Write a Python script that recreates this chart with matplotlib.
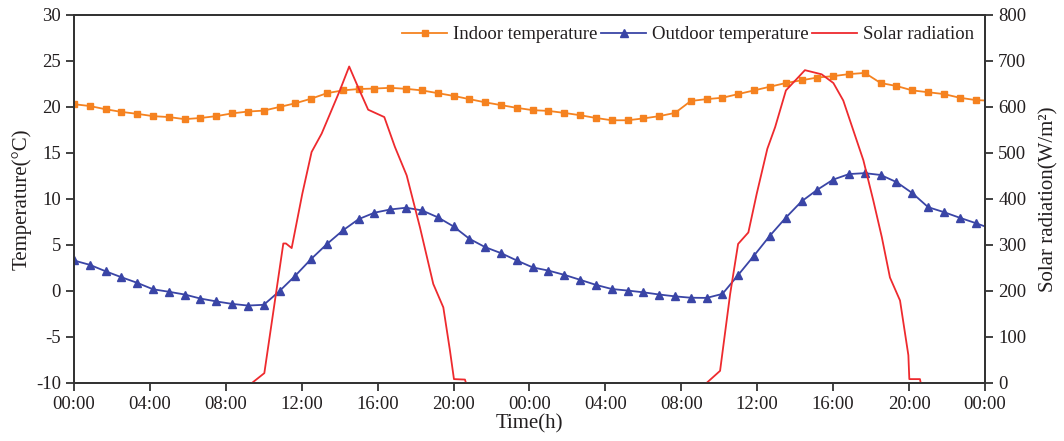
import numpy as np
import matplotlib
matplotlib.use("Agg")
import matplotlib.pyplot as plt

plt.rcParams['font.family'] = ['Liberation Serif', 'DejaVu Serif']
plt.rcParams['font.size'] = 13.5
plt.rcParams['axes.unicode_minus'] = False

# time of each marker (every 50 min) plus the end of the 48 h record
hours = np.append(np.arange(58) * 50 / 60, 48.0)

indoor = [20.3, 20.1, 19.75, 19.46, 19.25, 19.0, 18.9, 18.67, 18.8, 19.0,
          19.3, 19.5, 19.6, 20.0, 20.4, 20.9, 21.5, 21.8, 21.95, 22.0,
          22.08, 21.97, 21.8, 21.5, 21.2, 20.85, 20.5, 20.2, 19.9, 19.65,
          19.57, 19.35, 19.1, 18.8, 18.55, 18.55, 18.75, 19.0, 19.35, 20.65,
          20.85, 21.0, 21.4, 21.8, 22.2, 22.6, 22.9, 23.2, 23.35, 23.57,
          23.7, 22.6, 22.28, 21.8, 21.6, 21.4, 21.0, 20.75, 20.7]

outdoor = [3.3, 2.83, 2.13, 1.48, 0.87, 0.17, -0.1, -0.4, -0.84, -1.15,
           -1.42, -1.6, -1.52, -0.02, 1.66, 3.47, 5.1, 6.57, 7.8, 8.5,
           8.85, 9.04, 8.75, 8.0, 7.0, 5.66, 4.75, 4.1, 3.3, 2.55,
           2.2, 1.74, 1.2, 0.65, 0.2, 0.03, -0.16, -0.4, -0.6, -0.75,
           -0.77, -0.33, 1.74, 3.84, 6.0, 7.95, 9.73, 11.0, 12.1, 12.7,
           12.8, 12.6, 11.83, 10.63, 9.1, 8.56, 7.95, 7.37, 7.0]

# solar radiation, day 1 and day 2 (W/m2)
sun1_t = [9.39, 10.03, 11.03, 11.17, 11.47, 12.03, 12.52, 13.05, 13.49, 14.01,
          14.50, 14.98, 15.5, 16.35, 16.91, 17.53, 18.23, 18.93, 19.46, 19.81,
          20.02, 20.6, 20.65]
sun1_w = [0, 21, 303, 303, 293, 411, 502, 542, 585, 636,
          688, 642, 594, 578, 513, 451, 338, 215, 164, 70,
          8, 7, 0]
sun2_t = [33.34, 34.04, 34.57, 34.99, 35.53, 35.97, 36.53, 36.94, 37.51, 38.08,
          38.51, 39.39, 40.01, 40.53, 41.06, 41.59, 42.11, 42.56, 42.99, 43.52,
          43.96, 44.01, 44.57, 44.61]
sun2_w = [0, 26, 193, 302, 327, 411, 509, 556, 636, 661,
          680, 671, 652, 614, 549, 484, 397, 317, 229, 179,
          60, 8, 8, 0]

xticks = np.arange(0, 49, 4)
xlabels = ["00:00", "04:00", "08:00", "12:00", "16:00", "20:00", "00:00",
           "04:00", "08:00", "12:00", "16:00", "20:00", "00:00"]

c_in = '#F58220'
c_out = '#3A45A6'
c_sun = '#EE2A2E'
txt = '#231F20'

fig = plt.figure(figsize=(10.64, 4.41), dpi=100)
ax = fig.add_axes([0.0695, 0.132, 0.8563, 0.834])
ax2 = ax.twinx()

l1, = ax.plot(hours, indoor, color=c_in, lw=1.3, marker='s', ms=5,
              markevery=slice(0, 58), label='Indoor temperature')
l2, = ax.plot(hours, outdoor, color=c_out, lw=1.3, marker='^', ms=5.5,
              markevery=slice(0, 58), label='Outdoor temperature')
l3, = ax2.plot(sun1_t, sun1_w, color=c_sun, lw=1.3, label='Solar radiation')
ax2.plot(sun2_t, sun2_w, color=c_sun, lw=1.3)

ax.set_xlim(0, 48)
ax.set_ylim(-10, 30)
ax2.set_ylim(0, 800)
ax.set_xticks(xticks)
ax.set_xticklabels(xlabels)
ax.set_yticks(np.arange(-10, 31, 5))
ax2.set_yticks(np.arange(0, 801, 100))

for a in (ax, ax2):
    for s in a.spines.values():
        s.set_linewidth(1.3)
        s.set_color('#333333')
    a.tick_params(direction='out', length=6, width=1.3, colors='#333333',
                  labelcolor=txt, labelsize=13.5)

ax.set_xlabel('Time(h)', color=txt, labelpad=1, fontsize=15)
ax.set_ylabel('Temperature(°C)', color=txt, labelpad=3, fontsize=15)
ax2.set_ylabel('Solar radiation(W/m²)', color=txt, labelpad=9, fontsize=15)

ax2.legend(handles=[l1, l2, l3], loc='upper right', ncol=3, frameon=False,
           fontsize=13.5, handlelength=2.4, handletextpad=0.3,
           columnspacing=0.2, borderaxespad=0.2, labelcolor=txt)

fig.savefig('out.png', dpi=100)
